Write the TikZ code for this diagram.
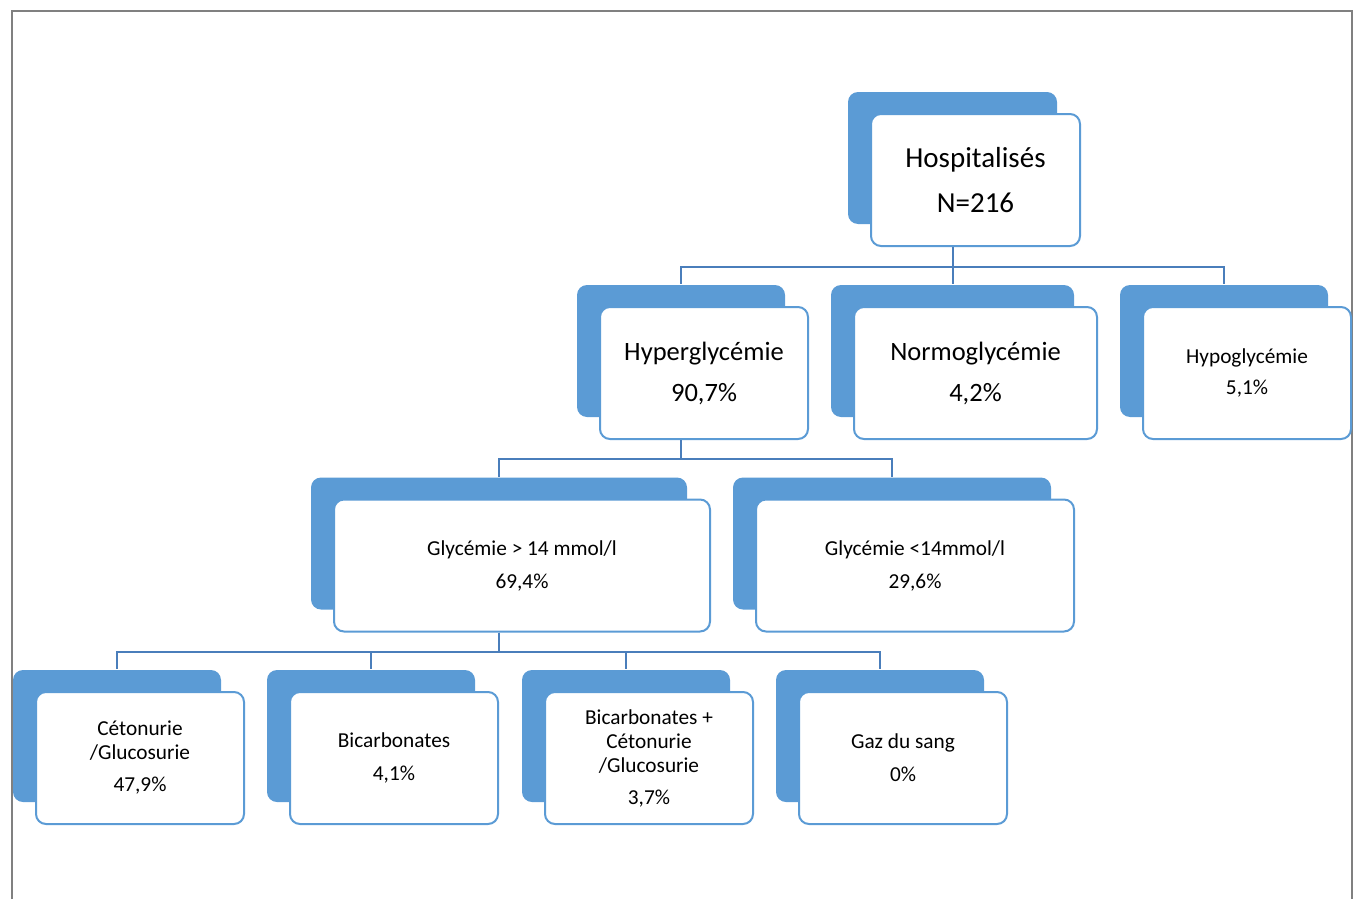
\documentclass[tikz,border=0pt]{standalone}
\usepackage{fontspec}
\setmainfont{Carlito}
\usetikzlibrary{shadows}
\definecolor{bleu}{HTML}{5B9BD5}
\definecolor{bleufonce}{HTML}{4A7EBB}
\begin{document}
\begin{tikzpicture}[x=1pt,y=-1pt,
    carte/.style={draw=bleu,fill=white,line width=2pt,rounded corners=10pt,
      inner sep=0pt,align=center,minimum height=132pt,minimum width=208pt,
      general shadow={shadow xshift=-23pt,shadow yshift=22pt,fill=bleu}},
    titre/.style={font=\fontsize{29}{45}\selectfont},
    grand/.style={font=\fontsize{26.5}{41}\selectfont},
    petit/.style={font=\fontsize{21.3}{24}\selectfont},
    lien/.style={draw=bleufonce,line width=2pt}]
  \useasboundingbox (0,0) rectangle (1359,899);
  \draw[gray,line width=1.5pt] (12,899) -- (12,11) -- (1352,11) -- (1352,899);
  % niveau 1
  \node[carte,titre,minimum width=209pt] (hosp) at (975.5,180) {Hospitalisés\\N=216};
  % niveau 2
  \node[carte,grand] (hyper) at (704,373) {Hyperglycémie\\90,7\%};
  \node[carte,grand,minimum width=243pt] (normo) at (975.5,373) {Normoglycémie\\4,2\%};
  \node[carte,petit] (hypo) at (1247,373) {Hypoglycémie\\[7pt]5,1\%};
  % niveau 3
  \node[carte,petit,minimum width=376pt] (glycsup) at (522,565.5) {Glycémie > 14 mmol/l\\[9pt]69,4\%};
  \node[carte,petit,minimum width=318pt] (glycinf) at (915,565.5) {Glycémie <14mmol/l\\[9pt]29,6\%};
  % niveau 4
  \node[carte,petit] (ceto) at (140,758) {Cétonurie\\/Glucosurie\\[8pt]47,9\%};
  \node[carte,petit] (bicar) at (394,758) {Bicarbonates\\[9pt]4,1\%};
  \node[carte,petit] (bicet) at (649,758) {Bicarbonates +\\Cétonurie\\/Glucosurie\\[8pt]3,7\%};
  \node[carte,petit] (gaz) at (903,758) {Gaz du sang\\[9pt]0\%};
  % liens
  \foreach \e in {hyper,normo,hypo}
    \draw[lien] ([xshift=-23pt]hosp.south) -- ++(0,20) -| ([xshift=-23pt,yshift=22pt]\e.north);
  \foreach \e in {glycsup,glycinf}
    \draw[lien] ([xshift=-23pt]hyper.south) -- ++(0,19) -| ([xshift=-23pt,yshift=22pt]\e.north);
  \foreach \e in {ceto,bicar,bicet,gaz}
    \draw[lien] ([xshift=-23pt]glycsup.south) -- ++(0,19) -| ([xshift=-23pt,yshift=22pt]\e.north);
\end{tikzpicture}
\end{document}
